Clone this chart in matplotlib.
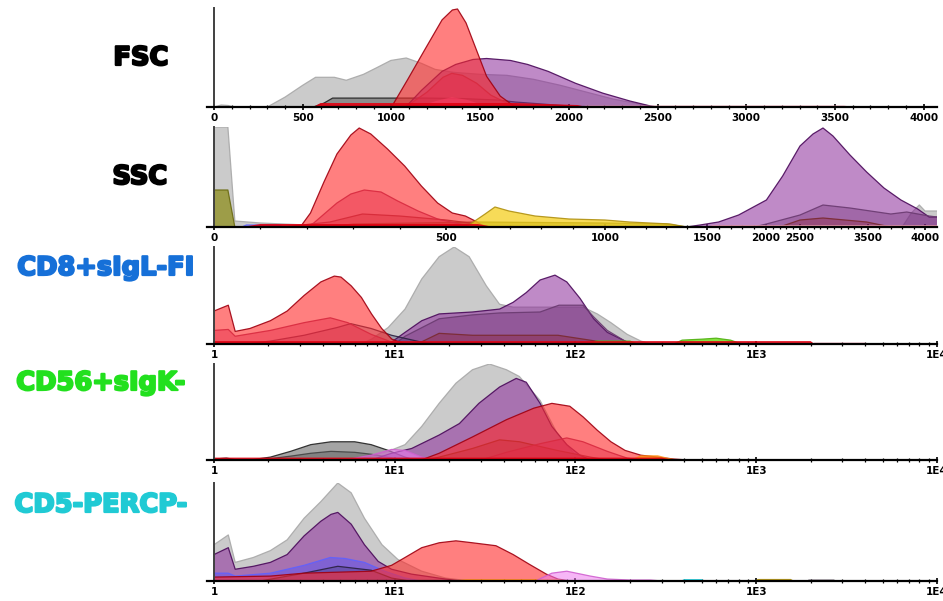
import numpy as np
import matplotlib
matplotlib.use("Agg")
import matplotlib.pyplot as plt
import matplotlib.patheffects as pe
from matplotlib.ticker import FixedLocator, FixedFormatter, LogLocator, NullFormatter

# ---- FSC (linear 0..4096), heights in % of panel ----
fsc_gray_x = [0, 40, 80, 110, 300, 400, 500, 572, 678, 745, 842, 920, 996, 1083, 1170, 1246, 1350, 1500, 1650, 1800, 1950, 2100, 2250, 2400, 2480]
fsc_gray_y = [0, 2, 1.5, 0, 0, 10, 22, 30, 30, 27, 33, 40, 47, 49.5, 44, 38, 35, 33, 32, 28, 22, 15, 8, 3, 0]
fsc_dgray_x = [560, 620, 668, 800, 1000, 1200, 1400, 1600, 1700, 1850, 2000, 2100]
fsc_dgray_y = [0, 4, 9, 9, 9, 9, 8.5, 7, 5, 3, 1, 0]
fsc_purple_x = [1080, 1170, 1285, 1362, 1459, 1536, 1671, 1767, 1883, 2037, 2191, 2345, 2460, 2500]
fsc_purple_y = [0, 17, 36, 43, 48, 49, 47, 43, 36, 24, 14, 6, 1, 0]
fsc_magenta_x = [1080, 1200, 1290, 1340, 1400, 1480, 1560, 1650, 1750]
fsc_magenta_y = [0, 15, 30, 34, 32, 24, 12, 4, 0]
fsc_pink_x = [1150, 1250, 1340, 1430, 1550]
fsc_pink_y = [0, 6, 10, 7, 0]
fsc_red_x = [1000, 1092, 1188, 1285, 1343, 1372, 1420, 1478, 1536, 1613, 1690, 1720]
fsc_red_y = [0, 28, 58, 88, 98, 99, 85, 58, 31, 11, 1, 0]
fsc_band_x = [560, 600, 1700, 2050, 2100]
fsc_band_y = [0, 4, 4, 2, 0]
fsc_pband_x = [2050, 2100, 3550, 3600]
fsc_pband_y = [0, 1.5, 1.5, 0]
fsc_ticks = [0, 500, 1000, 1500, 2000, 2500, 3000, 3500, 4000]

# ---- SSC (piecewise scale) ----
ssc_gray_x = [0, 30, 45, 100, 200, 400, 600, 3800, 3880, 3950, 4000, 4096]
ssc_gray_y = [100, 100, 6, 4, 2, 1, 0, 0, 14, 22, 16, 16]
ssc_olive_x = [0, 30, 45, 250, 300, 600, 1000, 1300, 1400]
ssc_olive_y = [37, 37, 0, 0, 3, 5, 4, 3, 0]
ssc_blue_x = [60, 70, 140, 150]
ssc_blue_y = [0, 2, 2, 0]
ssc_maroon_x = [150, 250, 320, 400, 500, 600, 640]
ssc_maroon_y = [0, 5, 13, 11, 7, 3, 0]
ssc_magenta_x = [200, 215, 265, 295, 324, 360, 396, 440, 482, 530, 572, 590]
ssc_magenta_y = [0, 4, 24, 33, 37, 35, 26, 16, 8, 4, 1, 0]
ssc_red_x = [186, 208, 237, 265, 295, 313, 338, 374, 411, 447, 482, 520, 561, 592, 623]
ssc_red_y = [0, 14, 45, 73, 92, 99, 93, 78, 61, 41, 24, 14, 11, 6, 0]
ssc_yellow_x = [563, 623, 654, 698, 780, 887, 1000, 1120, 1320, 1400]
ssc_yellow_y = [0, 13, 20, 16, 11, 8, 7, 5, 3, 0]
ssc_purple_x = [1400, 1466, 1598, 1768, 2006, 2245, 2500, 2691, 2838, 2985, 3235, 3480, 3640, 3789, 3936, 4033, 4096]
ssc_purple_y = [0, 2, 5, 12, 27, 51, 81, 93, 99, 91, 72, 55, 39, 27, 18, 10, 10]
ssc_purple2_x = [1900, 2006, 2500, 2838, 3235, 3700, 3840, 4033, 4096]
ssc_purple2_y = [0, 3, 12, 22, 19, 13, 15, 11, 10]
ssc_maroon2_x = [2200, 2500, 2838, 3480, 3700]
ssc_maroon2_y = [0, 7, 9, 5, 0]
ssc_band_x = [60, 100, 600, 650]
ssc_band_y = [0, 3, 3, 0]
ssc_pband_x = [1500, 1550, 4096]
ssc_pband_y = [0, 2, 2]
ssc_ticks = [0, 500, 1000, 1500, 2000, 2500, 3500, 4000]
# scale anchors: value -> pixel position on the original axis
ssc_anchor_vals = [-100, 0, 500, 1000, 1500, 2000, 2500, 3500, 4000, 4200]
ssc_anchor_px = [167.6, 214, 446, 605, 707, 766, 800, 868, 925, 950]

# ---- CD8+sIgL-FI (log) ----
cd8_gray_x = [6.5, 7.44, 9.2, 11.4, 14.1, 17.6, 21.3, 25.8, 32.1, 38.0, 45.2, 60, 80, 110, 132, 157, 193, 230, 262]
cd8_gray_y = [0, 5, 17, 36, 67, 90, 100, 90, 60, 41, 38, 38, 38, 38, 31, 22, 10, 3, 0]
cd8_purple_x = [9, 9.6, 11.4, 14.1, 17.6, 26.9, 38.0, 45.2, 53.4, 63.7, 77.0, 89.5, 106, 126, 150, 188, 211]
cd8_purple_y = [0, 2, 12, 24, 31, 33, 36, 43, 53, 66, 71, 64, 47, 26, 12, 3, 0]
cd8_purple2_x = [10, 11.4, 17.6, 26.9, 38, 63.7, 81, 110, 126, 150, 188, 200]
cd8_purple2_y = [0, 8, 26, 30, 32, 33, 40, 40, 28, 14, 3, 0]
cd8_maroon_x = [12, 14, 17.6, 26.9, 60, 80, 120, 150, 170]
cd8_maroon_y = [0, 2, 11, 9, 9, 9, 4, 1, 0]
cd8_dslate_x = [1.5, 2.05, 3.15, 4.8, 5.7, 7.4, 9.6, 14, 17]
cd8_dslate_y = [0, 3, 9, 17, 21, 16, 9, 2, 0]
cd8_magenta_x = [1, 1.2, 1.31, 2.05, 3.15, 4.4, 5.5, 7.4, 9.6, 11]
cd8_magenta_y = [14, 15, 8, 14, 22, 27, 22, 10, 2, 0]
cd8_red_x = [1, 1.20, 1.31, 1.58, 2.05, 2.54, 3.15, 3.90, 4.63, 5.04, 5.74, 6.54, 7.44, 8.47, 9.64, 11.4]
cd8_red_y = [34, 40, 13, 16, 24, 34, 50, 64, 70, 69, 60, 48, 31, 16, 5, 0]
cd8_green_x = [120, 130, 200, 220, 350, 389, 500, 600, 720, 800, 850]
cd8_green_y = [0, 3, 3, 0, 0, 4, 5, 6, 4, 1, 0]
cd8_band_x = [1, 2000, 2100]
cd8_band_y = [3, 3, 0]
cd8_pband_x = [2000, 2100, 4000, 4100]
cd8_pband_y = [0, 1.5, 1.5, 0]

# ---- CD56+sIgK- (log) ----
cd56_gray_x = [6.0, 9.2, 11.4, 14.1, 17.6, 21.8, 26.9, 33.4, 41.5, 48.9, 63.7, 79, 98, 121]
cd56_gray_y = [0, 9, 16, 35, 59, 80, 94, 100, 94, 87, 62, 28, 7, 0]
cd56_dgray_x = [1, 1.17, 1.3, 1.65, 2.05, 2.65, 3.43, 4.44, 6.0, 7.4, 9.2, 11.4, 13]
cd56_dgray_y = [1, 2, 0.5, 0.5, 3, 9, 16, 19, 19, 16, 10, 3, 0]
cd56_dgray2_x = [1.8, 2.65, 3.43, 4.44, 6.0, 7.4, 9.2, 11]
cd56_dgray2_y = [0, 4, 7, 9, 8, 6, 3, 0]
cd56_purple_x = [7.4, 9.6, 12.4, 17.6, 22.8, 29.2, 38, 47, 53.4, 63.7, 74, 89.5, 106, 121]
cd56_purple_y = [0, 7, 12, 26, 38, 59, 76, 85, 81, 59, 35, 16, 5, 0]
cd56_orchid_x = [5.3, 7.4, 9.6, 11.4, 14.1, 17]
cd56_orchid_y = [0, 5, 11, 10, 3, 0]
cd56_maroon_x = [15, 17.6, 26.9, 38, 49, 79, 121, 150]
cd56_maroon_y = [0, 3, 12, 21, 19, 10, 3, 0]
cd56_magenta_x = [30, 41.5, 63.7, 89.5, 110, 150, 193, 230]
cd56_magenta_y = [0, 8, 17, 23, 19, 9, 2, 0]
cd56_red_x = [14, 17.6, 26.9, 41.5, 58.8, 74, 93, 110, 132, 157, 188, 230, 285, 350, 420]
cd56_red_y = [0, 7, 24, 42, 54, 59, 56, 45, 31, 19, 10, 5, 3, 1, 0]
cd56_orange_x = [200, 230, 285, 330, 380]
cd56_orange_y = [0, 5, 5, 2, 0]
cd56_band_x = [1, 300, 350]
cd56_band_y = [2.5, 2.5, 0]

# ---- CD5-PERCP- (log) ----
cd5_gray_x = [1, 1.2, 1.31, 1.65, 2.05, 2.54, 3.15, 3.90, 4.84, 5.74, 6.8, 8.5, 10.4, 14.1, 19.1, 26]
cd5_gray_y = [37, 47, 19, 24, 31, 42, 64, 81, 100, 90, 64, 37, 22, 10, 3, 0]
cd5_purple_x = [1, 1.2, 1.31, 1.65, 2.05, 2.54, 3.15, 3.9, 4.44, 4.84, 5.74, 6.8, 8.1, 9.6, 12.4, 17.5, 23]
cd5_purple_y = [27, 34, 12, 15, 19, 27, 46, 61, 68, 70, 58, 37, 20, 12, 7, 3, 0]
cd5_blue_x = [1, 1.2, 1.31, 2.05, 3.15, 4.4, 5.3, 6.8, 8.8, 11.4, 14]
cd5_blue_y = [8, 8, 5, 8, 16, 24, 23, 19, 10, 3, 0]
cd5_dslate_x = [1.8, 3.15, 4.84, 7.4, 9.6, 12]
cd5_dslate_y = [0, 8, 15, 11, 3, 0]
cd5_red_x = [1, 2.05, 3.15, 4.84, 7.4, 9.6, 11.4, 14.1, 17.6, 21.8, 26.9, 36.3, 45.2, 55.6, 69, 80, 93]
cd5_red_y = [4, 5, 8, 9, 10, 16, 24, 34, 39, 41, 39, 36, 27, 17, 7, 2, 0]
cd5_orange_x = [20, 25, 80, 90]
cd5_orange_y = [0, 2, 2, 0]
cd5_orchid_x = [60, 74, 89.5, 121, 150, 200, 260, 300]
cd5_orchid_y = [0, 8, 10, 5, 2, 1, 1, 0]
cd5_cyan_x = [380, 400, 500, 520]
cd5_cyan_y = [0, 2, 2, 0]
cd5_yellow_x = [1000, 1020, 1550, 1600]
cd5_yellow_y = [0, 1.5, 1.5, 0]
cd5_dark_x = [1900, 1950, 2700, 2750]
cd5_dark_y = [0, 1.5, 1.5, 0]

log_ticks = [1, 10, 100, 1000, 10000]
log_labels = ["1", "1E1", "1E2", "1E3", "1E4"]

row_labels = ["FSC", "SSC", "CD8+sIgL-FI", "CD56+sIgK-", "CD5-PERCP-"]
row_colors = ["black", "black", "#1670d8", "#22e01e", "#20cad4"]

# face, alpha, edge
STYLES = {
    'gray': ('#c2c2c2', 0.85, '#a8a8a8'),
    'dgray': ('#5a5a5a', 0.55, '#222222'),
    'dgray2': ('#444444', 0.35, '#444444'),
    'red': ('#ff2a2a', 0.6, '#a00010'),
    'purple': ('#8c2a9a', 0.55, '#4a0a5a'),
    'purple2': ('#6a2a70', 0.35, '#6a3a70'),
    'magenta': ('#c02a70', 0.45, '#a02a60'),
    'pink': ('#ff60c0', 0.5, None),
    'maroon': ('#8a1a2a', 0.35, '#7a2a30'),
    'yellow': ('#f5d020', 0.75, '#b09010'),
    'olive': ('#8a8a10', 0.7, '#6a6a10'),
    'blue': ('#5050ff', 0.45, '#6060ff'),
    'orchid': ('#f07af0', 0.55, '#d060d0'),
    'green': ('#70e020', 0.85, '#50b010'),
    'dslate': ('#3a3060', 0.3, '#2a2040'),
    'cyan': ('#20d0e0', 0.9, None),
    'orange': ('#ff9010', 0.8, None),
    'band': ('#e00010', 0.9, None),
    'pband': ('#f0a0b0', 0.8, None),
    'dark': ('#403040', 0.8, None),
}

panels = [
    ('fsc', [(fsc_gray_x, fsc_gray_y, 'gray'), (fsc_dgray_x, fsc_dgray_y, 'dgray'),
             (fsc_purple_x, fsc_purple_y, 'purple'), (fsc_magenta_x, fsc_magenta_y, 'magenta'),
             (fsc_pink_x, fsc_pink_y, 'pink'), (fsc_red_x, fsc_red_y, 'red'),
             (fsc_band_x, fsc_band_y, 'band'), (fsc_pband_x, fsc_pband_y, 'pband')]),
    ('ssc', [(ssc_gray_x, ssc_gray_y, 'gray'), (ssc_olive_x, ssc_olive_y, 'olive'),
             (ssc_blue_x, ssc_blue_y, 'blue'), (ssc_maroon_x, ssc_maroon_y, 'maroon'),
             (ssc_magenta_x, ssc_magenta_y, 'magenta'), (ssc_red_x, ssc_red_y, 'red'),
             (ssc_yellow_x, ssc_yellow_y, 'yellow'), (ssc_purple_x, ssc_purple_y, 'purple'),
             (ssc_purple2_x, ssc_purple2_y, 'purple2'), (ssc_maroon2_x, ssc_maroon2_y, 'maroon'),
             (ssc_band_x, ssc_band_y, 'band'), (ssc_pband_x, ssc_pband_y, 'pband')]),
    ('log', [(cd8_gray_x, cd8_gray_y, 'gray'), (cd8_purple_x, cd8_purple_y, 'purple'),
             (cd8_purple2_x, cd8_purple2_y, 'purple2'), (cd8_maroon_x, cd8_maroon_y, 'maroon'),
             (cd8_dslate_x, cd8_dslate_y, 'dslate'), (cd8_magenta_x, cd8_magenta_y, 'magenta'),
             (cd8_red_x, cd8_red_y, 'red'), (cd8_green_x, cd8_green_y, 'green'),
             (cd8_band_x, cd8_band_y, 'band'), (cd8_pband_x, cd8_pband_y, 'pband')]),
    ('log', [(cd56_gray_x, cd56_gray_y, 'gray'), (cd56_dgray_x, cd56_dgray_y, 'dgray'),
             (cd56_dgray2_x, cd56_dgray2_y, 'dgray2'), (cd56_purple_x, cd56_purple_y, 'purple'),
             (cd56_orchid_x, cd56_orchid_y, 'orchid'), (cd56_maroon_x, cd56_maroon_y, 'maroon'),
             (cd56_magenta_x, cd56_magenta_y, 'magenta'), (cd56_red_x, cd56_red_y, 'red'),
             (cd56_orange_x, cd56_orange_y, 'orange'), (cd56_band_x, cd56_band_y, 'band')]),
    ('log', [(cd5_gray_x, cd5_gray_y, 'gray'), (cd5_purple_x, cd5_purple_y, 'purple'),
             (cd5_blue_x, cd5_blue_y, 'blue'), (cd5_dslate_x, cd5_dslate_y, 'dslate'),
             (cd5_red_x, cd5_red_y, 'red'), (cd5_orange_x, cd5_orange_y, 'orange'),
             (cd5_orchid_x, cd5_orchid_y, 'orchid'), (cd5_cyan_x, cd5_cyan_y, 'cyan'),
             (cd5_yellow_x, cd5_yellow_y, 'yellow'), (cd5_dark_x, cd5_dark_y, 'dark')]),
]

W, H = 943, 601
AX_LEFT, AX_RIGHT = 207, 937
panel_rows = [(8, 107), (127, 227), (247, 344), (364, 460), (483, 581)]
label_pos = [(141, 58), (140, 177), (106, 268), (101, 383), (101, 505)]

tick_font = ['Liberation Sans Narrow', 'DejaVu Sans']


def ssc_fwd(v):
    return np.interp(v, ssc_anchor_vals, ssc_anchor_px)


def ssc_inv(p):
    return np.interp(p, ssc_anchor_px, ssc_anchor_vals)


fig = plt.figure(figsize=(W / 100, H / 100), dpi=100)
fig.patch.set_facecolor('white')

for (kind, layers), (top, base), name, color, (lx, ly) in zip(panels, panel_rows, row_labels, row_colors, label_pos):
    ax = fig.add_axes([AX_LEFT / W, 1 - base / H, (AX_RIGHT - AX_LEFT) / W, (base - top) / H])

    for z, (xs, ys, sty) in enumerate(layers):
        face, alpha, edge = STYLES[sty]
        ax.fill_between(xs, ys, 0, facecolor=face, alpha=alpha, lw=0, zorder=z + 1)
        if edge is not None:
            ax.plot(xs, ys, color=edge, lw=0.9, alpha=0.9, zorder=z + 1)

    if kind == 'fsc':
        ax.set_xlim(-40, 4075)
        ax.spines['left'].set_position(('data', 0))
        ax.xaxis.set_major_locator(FixedLocator(fsc_ticks))
        ax.xaxis.set_major_formatter(FixedFormatter([str(t) for t in fsc_ticks]))
        ax.xaxis.set_minor_locator(FixedLocator(np.arange(100, 4100, 100)))
    elif kind == 'ssc':
        ax.set_xscale('function', functions=(ssc_fwd, ssc_inv))
        ax.set_xlim(-15, 4096)
        ax.spines['left'].set_position(('data', 0))
        ax.xaxis.set_major_locator(FixedLocator(ssc_ticks))
        ax.xaxis.set_major_formatter(FixedFormatter([str(t) for t in ssc_ticks]))
        ax.xaxis.set_minor_locator(FixedLocator(np.arange(100, 4100, 100)))
        ax.xaxis.set_minor_formatter(NullFormatter())
    else:
        ax.set_xscale('log')
        ax.set_xlim(10 ** -0.0387, 1e4)
        ax.spines['left'].set_position(('data', 1))
        ax.xaxis.set_major_locator(FixedLocator(log_ticks))
        ax.xaxis.set_major_formatter(FixedFormatter(log_labels))
        ax.xaxis.set_minor_locator(LogLocator(base=10, subs=np.arange(2, 10)))
        ax.xaxis.set_minor_formatter(NullFormatter())

    ax.set_ylim(0, 100)
    ax.set_yticks([])
    ax.spines['top'].set_visible(False)
    ax.spines['right'].set_visible(False)
    ax.spines['left'].set_color('#404040')
    ax.spines['left'].set_linewidth(1.4)
    ax.spines['left'].set_zorder(50)
    ax.spines['bottom'].set_color('black')
    ax.spines['bottom'].set_linewidth(1.6)
    ax.spines['bottom'].set_zorder(50)
    ax.patch.set_alpha(0)
    ax.tick_params(axis='x', which='major', direction='inout', length=5, width=1.2,
                   pad=1.5, labelsize=7.5)
    ax.tick_params(axis='x', which='minor', direction='inout', length=3, width=0.9)
    for lab in ax.get_xticklabels():
        lab.set_fontfamily(tick_font)
        lab.set_fontweight('bold')

    # heavy row label (Arial Black look): bold text with a thin same-colour stroke
    fig.text(lx / W, 1 - ly / H, name, color=color, fontsize=18.5, fontweight='bold',
             family='DejaVu Sans', ha='center', va='center',
             path_effects=[pe.withStroke(linewidth=1.6, foreground=color)])

fig.savefig('out.png', dpi=100)
